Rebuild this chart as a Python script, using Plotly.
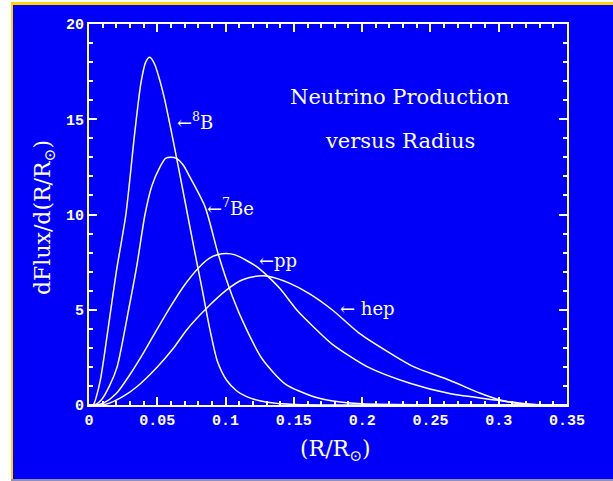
import plotly.graph_objects as go

# Radial profiles of solar neutrino production, dFlux/d(R/Rsun)
r_b8 = [0, 0.003, 0.008, 0.0135, 0.02, 0.027, 0.0335, 0.038, 0.0415, 0.0445, 0.048, 0.052,
        0.0555, 0.0593, 0.0642, 0.070, 0.0798, 0.0828, 0.0886, 0.094, 0.1008, 0.108, 0.115,
        0.125, 0.135, 0.15, 0.2, 0.35]
f_b8 = [0, 0, 1.2, 3.76, 7.0, 10.0, 14.3, 16.9, 18.0, 18.25, 17.9, 17.0,
        16.0, 14.7, 12.95, 10.8, 7.17, 6.1, 3.94, 2.3, 1.3, 0.75, 0.45,
        0.22, 0.1, 0.03, 0, 0]

r_be7 = [0, 0.004, 0.009, 0.015, 0.0206, 0.029, 0.035, 0.041, 0.046, 0.052, 0.056, 0.060,
         0.064, 0.069, 0.0736, 0.085, 0.0947, 0.105, 0.1155, 0.127, 0.1438, 0.164, 0.18,
         0.2, 0.25, 0.35]
f_be7 = [0, 0, 0.26, 1.0, 2.0, 5.0, 7.3, 10.0, 11.5, 12.5, 12.95, 13.0,
         12.95, 12.6, 12.0, 10.4, 7.9, 5.7, 3.94, 2.4, 1.1, 0.45, 0.2,
         0.07, 0.01, 0]

r_pp = [0, 0.005, 0.0106, 0.02, 0.03, 0.04, 0.0496, 0.06, 0.07, 0.0798, 0.088, 0.0947,
        0.1006, 0.107, 0.115, 0.1228, 0.130, 0.14, 0.152, 0.1667, 0.178, 0.204, 0.235,
        0.264, 0.298, 0.32, 0.33, 0.35]
f_pp = [0, 0, 0.1, 0.6, 1.6, 2.75, 3.94, 5.2, 6.3, 7.17, 7.7, 7.9,
        7.95, 7.88, 7.6, 7.26, 6.82, 6.1, 5.0, 3.94, 3.2, 2.0, 1.14,
        0.6, 0.26, 0.06, 0, 0]

r_hep = [0, 0.008, 0.015, 0.025, 0.035, 0.05, 0.0615, 0.0715, 0.085, 0.1008, 0.112, 0.124,
         0.132, 0.1467, 0.161, 0.178, 0.198, 0.221, 0.238, 0.264, 0.287, 0.301, 0.315,
         0.33, 0.35]
f_hep = [0, 0, 0.1, 0.45, 0.96, 2.0, 2.95, 3.94, 5.0, 6.04, 6.56, 6.77,
         6.75, 6.4, 5.86, 5.0, 3.76, 2.7, 2.0, 1.3, 0.6, 0.26, 0.08,
         0.01, 0]

x_ticks = [0, 0.05, 0.1, 0.15, 0.2, 0.25, 0.3, 0.35]
x_tick_text = ["0", "0.05", "0.1", "0.15", "0.2", "0.25", "0.3", "0.35"]
y_ticks = [0, 5, 10, 15, 20]
y_tick_text = ["0", "5", "10", "15", "20"]

# curve labels: (text, R, flux)
curve_labels = [
    ("←<sup>8</sup>B", 0.063, 14.92),
    ("←<sup>7</sup>Be", 0.0849, 10.41),
    ("←pp", 0.1228, 7.61),
    ("← hep", 0.1825, 5.07),
]

BLUE = "#0000FA"
WHITE = "#FFFFFF"
SERIF = "DejaVu Serif"
TICKFONT = "Liberation Mono"

fig = go.Figure()
for r, f in [(r_b8, f_b8), (r_be7, f_be7), (r_pp, f_pp), (r_hep, f_hep)]:
    fig.add_trace(go.Scatter(x=r, y=f, mode="lines",
                             line=dict(color=WHITE, width=1.5,
                                       shape="spline", smoothing=0.7),
                             showlegend=False, hoverinfo="skip"))

# page frame: yellow edge, blue panel, thin grey base line
W, H = 613, 481
L, R, T, B = 89, 46, 24, 76
pw, ph = W - L - R, H - T - B


def px_x(px):
    return (px - L) / pw


def px_y(py):
    return (H - B - py) / ph


shapes = [
    dict(type="rect", xref="paper", yref="paper", layer="below",
         x0=px_x(11), x1=px_x(W + 5), y0=px_y(479), y1=px_y(2),
         fillcolor="#FFD400", line=dict(width=0)),
    dict(type="rect", xref="paper", yref="paper", layer="below",
         x0=px_x(13), x1=px_x(W + 5), y0=px_y(479), y1=px_y(5),
         fillcolor=BLUE, line=dict(width=0)),
    dict(type="rect", xref="paper", yref="paper", layer="below",
         x0=px_x(11), x1=px_x(W + 5), y0=px_y(481), y1=px_y(479),
         fillcolor="#9090B0", line=dict(width=0)),
]

annotations = []
for text, xr, yf in curve_labels:
    annotations.append(dict(x=xr, y=yf, xref="x", yref="y", text=text,
                            showarrow=False, xanchor="left", yanchor="middle",
                            font=dict(family=SERIF, size=18, color=WHITE)))

annotations += [
    dict(x=0.2277, y=16.17, xref="x", yref="y", text="Neutrino Production",
         showarrow=False, xanchor="center", yanchor="middle",
         font=dict(family=SERIF, size=21, color=WHITE)),
    dict(x=0.2277, y=13.86, xref="x", yref="y", text="versus Radius",
         showarrow=False, xanchor="center", yanchor="middle",
         font=dict(family=SERIF, size=21, color=WHITE)),
    dict(x=px_x(335), y=px_y(450), xref="paper", yref="paper",
         text="(R/R<sub>⊙</sub>)", showarrow=False,
         xanchor="center", yanchor="middle",
         font=dict(family=SERIF, size=22, color=WHITE)),
    dict(x=px_x(44), y=px_y(218), xref="paper", yref="paper",
         text="dFlux/d(R/R<sub>⊙</sub>)", showarrow=False, textangle=-90,
         xanchor="center", yanchor="middle",
         font=dict(family=SERIF, size=22, color=WHITE)),
]

axis_common = dict(showline=True, linecolor=WHITE, linewidth=2, mirror="ticks",
                   ticks="inside", tickcolor=WHITE, tickwidth=1.5, ticklen=8,
                   showgrid=False, zeroline=False,
                   tickfont=dict(family=TICKFONT, size=15, color=WHITE, weight="bold"))

fig.update_layout(
    width=W, height=H,
    margin=dict(l=L, r=R, t=T, b=B),
    paper_bgcolor=WHITE,
    plot_bgcolor="rgba(0,0,0,0)",
    shapes=shapes,
    annotations=annotations,
    xaxis=dict(range=[0, 0.35], tickvals=x_ticks, ticktext=x_tick_text,
               minor=dict(ticks="inside", dtick=0.01, ticklen=4,
                          tickcolor=WHITE, tickwidth=1.5),
               **axis_common),
    yaxis=dict(range=[0, 20], tickvals=y_ticks, ticktext=y_tick_text,
               minor=dict(ticks="inside", dtick=1, ticklen=4,
                          tickcolor=WHITE, tickwidth=1.5),
               **axis_common),
)

fig.write_html("out.html")
